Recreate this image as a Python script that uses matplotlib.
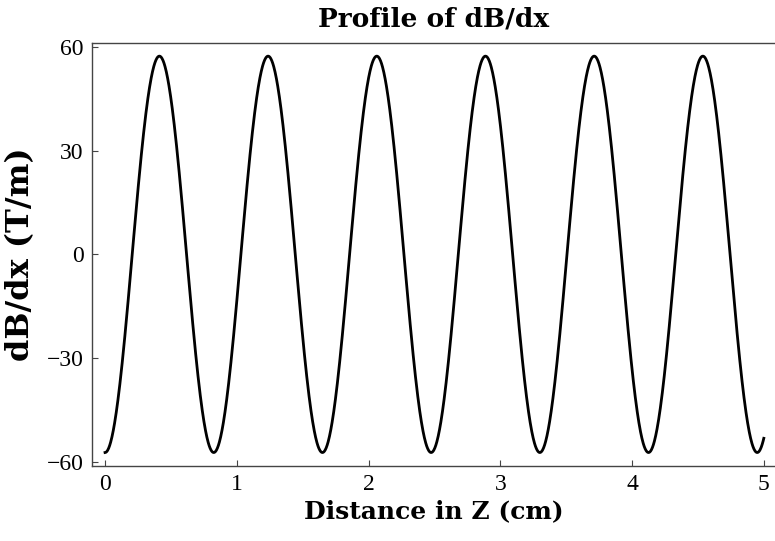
import numpy as np
import matplotlib
matplotlib.use("Agg")
import matplotlib.pyplot as plt

# Gradient profile along Z: dB/dx = -G * cos(2*pi*z / period)
gradient_amplitude = 57.3   # T/m
period_cm = 0.825           # cm
z_start, z_end = 0.0, 5.0   # cm

x_ticks = [0, 1, 2, 3, 4, 5]
y_ticks = [-60, -30, 0, 30, 60]
y_tick_labels = ["\u221260", "\u221230", "0", "30", "60"]

z = np.linspace(z_start, z_end, 2000)
dbdx = -gradient_amplitude * np.cos(2 * np.pi * z / period_cm)

plt.rcParams["font.family"] = ["Liberation Serif", "DejaVu Serif"]

fig = plt.figure(figsize=(7.75, 5.41), dpi=100)
ax = fig.add_axes([92 / 775, 1 - 466 / 541, (775 - 92) / 775, (466 - 43) / 541])

ax.plot(z, dbdx, color="black", lw=2.0)

ax.set_xlim(-0.099, 5.085)
ax.set_ylim(-61.2, 61.1)
ax.set_xticks(x_ticks)
ax.set_yticks(y_ticks)
ax.set_yticklabels(y_tick_labels)
ax.tick_params(direction="in", length=4, width=0.8, labelsize=17,
               colors="#444444", labelcolor="black", pad=6)

for side in ["left", "bottom", "top"]:
    ax.spines[side].set_color("#444444")
    ax.spines[side].set_linewidth(1.0)
ax.spines["right"].set_visible(False)

label_font = {"family": "DejaVu Serif", "weight": "bold"}
ax.set_title("Profile of dB/dx", fontsize=19, fontdict=label_font, pad=12)
ax.set_xlabel("Distance in Z (cm)", fontsize=18, fontdict=label_font, labelpad=3)
ax.set_ylabel("dB/dx (T/m)", fontsize=23, fontdict=label_font, labelpad=8)

fig.savefig("out.png", dpi=100)
